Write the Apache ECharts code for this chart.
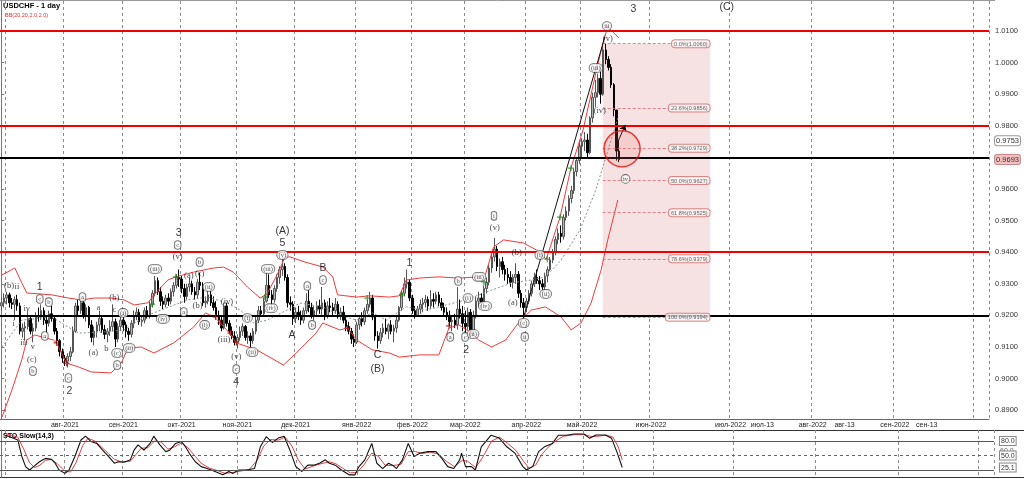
<!DOCTYPE html>
<html><head><meta charset="utf-8">
<script src="https://cdn.jsdelivr.net/npm/echarts@6/dist/echarts.min.js"></script>
<style>html,body{margin:0;padding:0;background:#fff;}#c{width:1024px;height:479px;}</style>
</head><body><div id="c"></div>
<script>
// ---------- DATA ----------
// daily bars, Jun 29 2021 .. May 20 2022, in pips: [open, close, low, high]
const ohlcPips = [
[9230,9240,9215,9255],[9240,9255,9225,9270],[9255,9265,9235,9275],[9265,9240,9225,9272],[9240,9235,9220,9255],[9235,9250,9185,9260],
[9250,9230,9215,9265],[9230,9150,9140,9240],[9150,9160,9130,9175],[9160,9165,9120,9180],[9165,9190,9155,9215],[9190,9150,9140,9200],
[9150,9160,9115,9175],[9160,9200,9150,9210],[9200,9195,9180,9225],[9195,9215,9185,9235],[9215,9185,9170,9225],[9185,9175,9145,9200],
[9175,9205,9165,9215],[9205,9190,9180,9230],[9190,9150,9140,9195],[9150,9120,9110,9160],[9120,9085,9070,9125],[9085,9065,9050,9095],
[9065,9055,9040,9075],[9055,9070,9035,9080],[9070,9085,9055,9100],[9085,9150,9080,9165],[9150,9230,9145,9240],[9230,9215,9200,9250],
[9215,9240,9205,9255],[9240,9200,9190,9255],[9200,9225,9180,9235],[9225,9170,9160,9230],[9170,9130,9115,9185],[9130,9150,9105,9165],
[9150,9170,9130,9180],[9170,9190,9150,9215],[9190,9155,9145,9200],[9155,9140,9125,9170],[9140,9150,9115,9160],[9150,9165,9135,9185],
[9165,9180,9150,9235],[9180,9125,9100,9190],[9125,9165,9115,9175],[9165,9185,9150,9200],[9185,9170,9150,9210],[9170,9150,9130,9180],
[9150,9140,9120,9160],[9140,9175,9130,9185],[9175,9200,9160,9215],[9200,9210,9185,9225],[9210,9180,9170,9220],[9180,9185,9165,9200],
[9185,9215,9175,9225],[9215,9200,9190,9230],[9200,9235,9190,9245],[9235,9270,9225,9280],[9270,9310,9260,9325],[9310,9275,9265,9320],
[9275,9245,9230,9290],[9245,9235,9220,9260],[9235,9255,9225,9265],[9255,9245,9230,9270],[9245,9275,9235,9285],[9275,9295,9260,9305],
[9295,9320,9285,9330],[9320,9315,9290,9345],[9315,9285,9270,9325],[9285,9260,9240,9300],[9260,9290,9250,9300],[9290,9300,9275,9320],
[9300,9275,9265,9310],[9275,9265,9250,9290],[9265,9305,9255,9315],[9305,9295,9280,9335],[9295,9240,9230,9305],[9240,9245,9225,9260],
[9245,9265,9235,9280],[9265,9240,9230,9285],[9240,9225,9215,9260],[9225,9200,9190,9245],[9200,9185,9170,9215],[9185,9160,9150,9200],
[9160,9230,9155,9240],[9230,9175,9165,9240],[9175,9150,9140,9185],[9150,9135,9125,9165],[9135,9115,9105,9150],[9115,9130,9095,9140],
[9130,9150,9120,9165],[9150,9165,9135,9175],[9165,9130,9120,9170],[9130,9135,9110,9150],[9135,9120,9100,9145],[9120,9150,9110,9160],
[9150,9185,9140,9195],[9185,9215,9175,9230],[9215,9205,9195,9230],[9205,9245,9200,9255],[9245,9295,9240,9335],[9295,9265,9255,9330],
[9265,9250,9225,9280],[9250,9285,9240,9295],[9285,9320,9275,9330],[9320,9345,9300,9355],[9345,9355,9325,9385],[9355,9320,9310,9365],
[9320,9240,9225,9330],[9240,9235,9215,9260],[9235,9190,9170,9245],[9190,9210,9175,9225],[9210,9200,9185,9230],[9200,9185,9170,9215],
[9185,9215,9175,9225],[9215,9245,9205,9270],[9245,9225,9210,9280],[9225,9200,9190,9240],[9200,9215,9185,9230],[9215,9230,9200,9245],
[9230,9220,9205,9250],[9220,9240,9200,9290],[9240,9200,9185,9250],[9200,9230,9190,9245],[9230,9225,9210,9255],[9225,9215,9195,9240],
[9215,9235,9205,9255],[9235,9200,9190,9245],[9200,9210,9185,9225],[9210,9185,9175,9230],[9185,9165,9150,9195],[9165,9150,9140,9180],
[9150,9125,9110,9160],[9125,9115,9100,9140],[9115,9170,9110,9180],[9170,9190,9155,9200],[9190,9180,9165,9210],[9180,9215,9170,9225],
[9215,9235,9205,9250],[9235,9255,9225,9275],[9255,9195,9185,9265],[9195,9135,9120,9200],[9135,9120,9095,9150],[9120,9145,9110,9160],
[9145,9160,9130,9175],[9160,9150,9140,9190],[9150,9170,9125,9175],[9170,9150,9140,9185],[9150,9160,9115,9170],[9160,9185,9145,9200],
[9185,9225,9180,9230],[9225,9270,9215,9280],[9270,9300,9260,9320],[9300,9305,9285,9345],[9305,9255,9245,9315],[9255,9215,9205,9265],
[9215,9200,9190,9230],[9200,9220,9195,9230],[9220,9235,9205,9250],[9235,9240,9210,9255],[9240,9250,9225,9265],[9250,9230,9215,9260],
[9230,9250,9220,9280],[9250,9245,9225,9270],[9245,9265,9235,9275],[9265,9240,9230,9275],[9240,9225,9215,9255],[9225,9210,9195,9240],
[9210,9200,9185,9225],[9200,9180,9165,9215],[9180,9185,9150,9200],[9185,9170,9160,9205],[9170,9220,9155,9290],[9220,9205,9190,9250],
[9205,9175,9150,9230],[9175,9165,9140,9215],[9165,9210,9155,9225],[9210,9150,9130,9220],[9150,9200,9140,9215],[9200,9245,9190,9260],
[9245,9255,9225,9275],[9255,9240,9225,9270],[9240,9285,9235,9295],[9285,9305,9270,9320],[9305,9350,9295,9360],[9350,9385,9335,9400],
[9385,9410,9370,9445],[9410,9355,9340,9420],[9355,9370,9320,9380],[9370,9345,9330,9385],[9345,9330,9310,9360],[9330,9320,9300,9350],
[9320,9305,9290,9340],[9305,9320,9285,9330],[9320,9330,9300,9365],[9330,9270,9255,9340],[9270,9240,9225,9280],[9240,9225,9195,9255],
[9225,9245,9210,9255],[9245,9270,9235,9280],[9270,9300,9260,9310],[9300,9320,9290,9335],[9320,9310,9300,9345],[9310,9300,9280,9325],
[9300,9290,9270,9315],[9290,9325,9280,9335],[9325,9345,9305,9355],[9345,9375,9340,9385],[9375,9400,9365,9410],[9400,9440,9390,9450],
[9440,9460,9425,9475],[9460,9450,9430,9485],[9450,9510,9440,9520],[9510,9530,9500,9545],[9530,9570,9515,9580],[9570,9595,9555,9610],
[9595,9655,9585,9665],[9655,9690,9640,9700],[9690,9735,9680,9750],[9735,9750,9700,9760],[9750,9755,9720,9780],[9755,9715,9700,9775],
[9715,9825,9710,9830],[9825,9890,9810,9905],[9890,9905,9860,9945],[9905,9950,9890,9965],[9950,9900,9870,9990],[9900,10040,9895,10060],
[10040,10010,9995,10060],[10010,9985,9975,10020],[9985,9930,9920,9995],[9930,9850,9830,9935],[9850,9720,9690,9850],[9720,9693,9685,9755]
];
// Bollinger bands: [bar position, value]
const bbUpper = [[0.25,.9328],[5.1,.9350],[7.7,.9303],[9.6,.9271],[19,.9265],[25.3,.9255],[30.2,.9249],[35.1,.9255],[41.4,.9255],[46.3,.9249],[50.1,.9233],[55.3,.9240],[57.6,.9265],[62.8,.9312],[65.8,.9322],[72.5,.9337],[80,.9350],[83.8,.9353],[87.5,.9337],[92.8,.9290],[97.6,.9255],[100.2,.9268],[104,.9328],[107,.9385],[108.9,.9385],[114.5,.9369],[121.2,.9353],[125,.9322],[126.8,.9265],[134,.9258],[138.8,.9262],[146.3,.9258],[150.1,.9262],[152.7,.9312],[157.6,.9318],[165,.9322],[172.5,.9318],[180,.9322],[182.6,.9330],[185.6,.9416],[189.4,.9439],[196.9,.9429],[201.8,.9407],[205.5,.9378],[210.7,.9511],[214.8,.9666],[219.4,.9787],[224.2,.9967],[226.9,1.0062],[228.7,1.0113],[232.9,1.0078]];
const bbMiddle = [[0.25,.9100],[7.7,.9185],[19,.9195],[25.3,.9163],[29.1,.9144],[37.7,.9147],[46.3,.9154],[53.8,.9195],[60.2,.9217],[70.3,.9249],[77.8,.9258],[85.3,.9239],[90.1,.9217],[95,.9176],[100.2,.9185],[107.7,.9217],[112.6,.9239],[121.2,.9227],[127.6,.9201],[134,.9185],[139.9,.9208],[145.2,.9185],[152.7,.9227],[160.2,.9217],[167.7,.9233],[175.2,.9249],[184.9,.9280],[192.5,.9303],[199.9,.9312],[205.2,.9322],[211.1,.9375],[218.2,.9470],[224.2,.9597],[228,.9701],[232.5,.9825]];
const bbLower = [[0.25,.8878],[4,.8964],[7.7,.9059],[9.6,.9122],[12.6,.9138],[19.7,.9122],[20.8,.9113],[24.6,.9049],[29.1,.9037],[33.9,.9021],[41.4,.9018],[45.2,.9049],[47.8,.9097],[52.7,.9100],[57.6,.9081],[65,.9113],[72.5,.9163],[77,.9208],[80.4,.9195],[82.6,.9176],[86.7,.9138],[88.6,.9113],[96.3,.9091],[106.4,.9043],[111.2,.9081],[118.7,.9144],[121.2,.9176],[127.6,.9154],[130.6,.9160],[134,.9122],[139.9,.9091],[146.3,.9081],[150.1,.9068],[157.6,.9075],[165,.9075],[168.8,.9160],[172.5,.9170],[176.3,.9150],[180,.9122],[184.9,.9100],[190.2,.9122],[195,.9176],[199.9,.9217],[205.2,.9227],[211.1,.9195],[214.9,.9154],[218.6,.9176],[222.4,.9239],[226.2,.9344],[228.7,.9439],[232.5,.9565]];
// Stochastic slow (14,3)
const stoK = [[1.7,92],[6.2,82],[7.7,48],[9.1,27],[10.6,20],[12.1,27],[14.3,37],[16.5,44],[18.8,42],[20.2,34],[21.7,20],[23.9,13],[25.4,20],[27.6,48],[29.9,82],[31.6,90],[33.6,79],[35.8,75],[38,61],[40.2,48],[42.4,34],[43.9,37],[46.1,36],[48.4,41],[49.8,61],[51.3,72],[53.5,61],[55.8,75],[57.2,90],[59.5,72],[61.7,58],[63.2,61],[65.4,75],[67.6,79],[69.1,68],[70.6,54],[72.8,37],[75,27],[77.2,23],[80.2,17],[83.1,10],[85.4,17],[86.9,13],[89.1,20],[92,20],[95,23],[97.2,68],[99.4,89],[101.7,77],[103.9,86],[106.1,90],[108.3,61],[110.5,27],[112.8,17],[115,30],[117.2,30],[119.4,34],[121.6,41],[123.1,34],[125.3,30],[127.6,20],[130.5,10],[132.7,10],[134.2,27],[136.4,41],[139,75],[140.9,34],[143.1,23],[145.3,34],[146.8,30],[148.3,23],[150.5,41],[152.7,75],[154.9,48],[157.2,55],[160.1,58],[163.1,58],[165.3,44],[167.5,27],[169.8,23],[172,41],[172.7,55],[174.2,27],[176.4,27],[177.9,20],[180.1,68],[183.8,92],[186.8,86],[189.7,68],[192.7,55],[195.7,27],[197.1,20],[199.4,27],[201.6,58],[203.8,68],[206.8,75],[209,92],[212,92],[214.9,94.5],[218.6,94.5],[220.8,85.5],[223.1,92.4],[226.7,92.4],[229,85.5],[231.2,54.5],[233,25.1]];
const stoD = [[1.7,95],[6.2,88],[8.5,62],[10.6,35],[12.5,25],[14.5,30],[16.5,40],[18.8,42],[21,33],[23.9,17],[26,16],[28,35],[30.5,70],[32.5,86],[35,80],[37.5,68],[40.2,54],[42.4,42],[45,37],[48.4,38],[50.5,52],[52.5,65],[55,66],[57.5,80],[60,78],[62.5,63],[65,68],[67.6,76],[70,66],[72.8,48],[75,34],[78,24],[81,19],[84,13],[87,15],[90,18],[93,21],[96,40],[98.5,70],[101,83],[104,82],[106.5,88],[109,70],[111.5,40],[114,22],[117,28],[120,33],[123,37],[125.5,33],[128,24],[131,14],[133.5,15],[136,30],[139,55],[141.5,48],[144,30],[147,29],[150,32],[152.7,58],[155.5,58],[158,54],[161,57],[164,53],[167,38],[170,27],[173,40],[175,38],[178,25],[180.5,45],[184,80],[187,88],[190,75],[193,61],[196,38],[198,24],[200.5,30],[202.5,50],[205,66],[208,80],[211,90],[215,93],[219,93],[221.5,89],[224,90],[227,92],[229.5,88],[231.5,68],[233,41]];
// horizontal levels
const redLevels = [1.0100, 0.9797, 0.9439];
const blackLevels = [0.9714, 0.9196];
// Fibonacci retracement
const fibPct = ['0.0','23.6','38.2','50.0','61.8','78.6','100.0'];
const fibVal = [1.0060, 0.9856, 0.9729, 0.9627, 0.9525, 0.9379, 0.9194];
const fibSpan = [226.8, 267.3];
// trend line and arrow, circle
const trendLine = [[196.9, 0.9192], [227.6, 1.0081]];
const arrowLine = [[232.8, 0.9755], [235.3, 0.98025]];
const circleMark = [234.1, 0.9727];
// signal crosses
const greenCross = [[56.8,.9236],[65.8,.9322],[99.4,.9258],[138,.9255],[151.1,.9265],[182,.9306],[205.9,.9378],[210.7,.9511],[214.8,.9666]];
const redCross = [[20.8,.9113],[24.6,.9049],[80.8,.9195],[82.6,.9176],[86.4,.9144],[88.6,.9116],[130.6,.9160],[168.8,.9167]];
// wave labels: [position, value, text, kind] kind: B big, s small, c circled
const waveLabels = [
[2.9,.9293,'(b)','s'],[5.9,.9290,'ii','s'],[4.7,.9173,'i','s'],[8.5,.9113,'iii','s'],[9.6,.9220,'iv','s'],[11.9,.9100,'v','s'],
[11.5,.9059,'(c)','s'],[11.9,.9024,'b','c'],[14.5,.9290,'1','B'],[14.5,.9252,'c','c'],[17.9,.9242,'b','c'],[16.4,.9135,'a','c'],
[25.3,.9002,'c','c'],[25.7,.8961,'2','B'],[30.6,.9258,'a','c'],[34.7,.9081,'(a)','s'],[36.6,.9223,'a','s'],[39.6,.9094,'b','s'],
[42.6,.9255,'(b)','s'],[42.6,.9217,'c','s'],[45.9,.9208,'(i)','c'],[43.7,.9081,'(c)','c'],[43.7,.9043,'b','c'],[48.2,.9097,'(ii)','c'],
[57.9,.9347,'(iii)','c'],[60.9,.9189,'(iv)','c'],[66.9,.9461,'3','B'],[66.5,.9423,'c','c'],[66.5,.9385,'(v)','s'],[70.7,.9325,'(a)','s'],
[74.8,.9331,'(c)','s'],[74.8,.9369,'b','c'],[68.8,.9211,'a','c'],[74.0,.9230,'(b)','s'],[78.2,.9290,'(ii)','c'],[76.7,.9170,'(i)','c'],
[85.1,.9242,'(iv)','s'],[84.0,.9122,'(iii)','s'],[88.6,.9068,'(v)','s'],[88.6,.9030,'c','c'],[88.6,.8989,'4','B'],[92.8,.9192,'(i)','c'],
[94.6,.9084,'(ii)','c'],[100.6,.9347,'(iii)','c'],[101.7,.9223,'(iv)','c'],[106.0,.9467,'(A)','B'],[106.0,.9429,'5','B'],[106.0,.9391,'(v)','c'],
[109.6,.9138,'A','B'],[115.4,.9293,'a','c'],[117.2,.9170,'b','c'],[121.3,.9350,'B','B'],[121.3,.9312,'c','c'],[141.9,.9075,'C','B'],
[141.9,.9030,'(B)','B'],[153.9,.9366,'1','B'],[169.3,.9132,'a','c'],[172.3,.9309,'b','c'],[174.9,.9132,'c','c'],[175.3,.9091,'2','B'],
[177.9,.9141,'(ii)','c'],[176.0,.9255,'(i)','c'],[180.2,.9322,'(iii)','c'],[182.4,.9230,'(iv)','c'],[185.8,.9515,'i','c'],[186.1,.9477,'(v)','s'],
[194.4,.9397,'(b)','s'],[192.9,.9239,'(a)','s'],[197.0,.9176,'(c)','c'],[197.4,.9132,'ii','c'],[203.1,.9391,'(i)','c'],[205.3,.9268,'(ii)','c'],
[238.4,1.0170,'3','B'],[273.6,1.0176,'(C)','B'],[228.4,1.0116,'iii','c'],[228.7,1.0075,'(v)','s'],[224.2,.9983,'(iii)','c'],[225.7,.9847,'(iv)','s'],
[235.4,.9632,'iv','c']
];
// axis ticks
const priceTicks = [0.89,0.90,0.91,0.92,0.93,0.94,0.95,0.96,0.97,0.98,0.99,1.00,1.01];
const priceTickLabels = [0.89,0.90,0.91,0.92,0.93,0.94,0.95,0.96,0.98,0.99,1.00,1.01];
const priceMarks = {'0.9753':'cur', '0.9693':'last'};
const stoTicks = [60, 80, 50, 25.1];
const dateLabels = {
 '2021-08-02':'авг-2021','2021-09-01':'сен-2021','2021-10-01':'окт-2021','2021-11-01':'ноя-2021','2021-12-01':'дек-2021',
 '2022-01-03':'янв-2022','2022-02-01':'фев-2022','2022-03-01':'мар-2022','2022-04-01':'апр-2022','2022-05-02':'май-2022',
 '2022-06-01':'июн-2022','2022-07-01':'июл-2022','2022-07-13':'июл-13','2022-08-01':'авг-2022','2022-08-13':'авг-13',
 '2022-09-01':'сен-2022','2022-09-13':'сен-13'
};
const gridDates = ['2021-07-01','2021-08-02','2021-09-01','2021-10-01','2021-11-01','2021-12-01','2022-01-03','2022-02-01',
 '2022-03-01','2022-04-01','2022-05-02','2022-06-01','2022-07-01','2022-08-01','2022-09-01','2022-10-01'];

// ---------- CATEGORIES (trading days, then calendar days in the future area) ----------
function buildCategories(){
  const out=[]; const d=new Date(Date.UTC(2021,5,29));
  const lastBar=Date.UTC(2022,4,20), end=Date.UTC(2022,9,6);
  while(d.getTime()<=end){
    const dow=d.getUTCDay();
    if(d.getTime()>lastBar || (dow!==0 && dow!==6)) out.push(d.toISOString().slice(0,10));
    d.setUTCDate(d.getUTCDate()+1);
  }
  return out;
}
const cats = buildCategories();
const N = cats.length;
const candles = ohlcPips.map(r => r.map(v => v/10000));
const gridSet = new Set(gridDates);

const FONT = 'Liberation Sans, Arial, sans-serif';
const SERIF = 'Liberation Serif, Times New Roman, serif';
const gridLine = {show:true, interval:(i,v)=>gridSet.has(v), lineStyle:{color:'#8c8c8c', type:[3,3], width:1}};
const crossPath = 'path://M4,0H6V4H10V6H6V10H4V6H0V4H4Z';

const chart = echarts.init(document.getElementById('c'), null, {renderer:'canvas'});
const option = {
  animation:false,
  backgroundColor:'#fff',
  grid:[{left:-2, top:1, width:996, height:418}, {left:-2, top:430, width:996, height:47}],
  xAxis:[
    {type:'category', gridIndex:0, data:cats, boundaryGap:true,
     axisLine:{show:true, lineStyle:{color:'#666'}}, axisTick:{show:false},
     axisLabel:{interval:(i,v)=>dateLabels[v]!==undefined, formatter:v=>dateLabels[v]||'', fontSize:7, color:'#222', fontFamily:FONT, margin:3},
     splitLine:gridLine},
    {type:'value', gridIndex:0, min:-0.5, max:N-0.5, show:false},
    {type:'category', gridIndex:1, data:cats, boundaryGap:true, axisLine:{show:false}, axisTick:{show:false}, axisLabel:{show:false}, splitLine:gridLine},
    {type:'value', gridIndex:1, min:-0.5, max:N-0.5, show:false}
  ],
  yAxis:[
    {type:'value', gridIndex:0, position:'right', min:0.88722, max:1.01949,
     axisLine:{show:true, lineStyle:{color:'#777'}},
     axisTick:{show:true, customValues:priceTicks, length:3, lineStyle:{color:'#777'}},
     splitLine:{show:false},
     axisLabel:{customValues:priceTickLabels.concat([0.9753,0.9693]), margin:6, fontSize:7.5, color:'#333', fontFamily:FONT,
       formatter:v=>{const s=v.toFixed(4); return priceMarks[s] ? '{'+priceMarks[s]+'|'+s+'}' : s;},
       rich:{cur:{fontSize:7.5, color:'#333', backgroundColor:'#fff', borderColor:'#999', borderWidth:1, borderRadius:2, padding:[1,1,0,1]},
             last:{fontSize:7.5, color:'#333', backgroundColor:'#f2c0c0', borderColor:'#c88', borderWidth:1, borderRadius:2, padding:[1,1,0,1]}}}},
    {type:'value', gridIndex:1, position:'right', min:5.52, max:102.76,
     axisLine:{show:true, lineStyle:{color:'#777'}}, axisTick:{show:false}, splitLine:{show:false},
     axisLabel:{customValues:stoTicks, margin:6, fontSize:7, color:'#333', fontFamily:FONT,
       formatter:v=> v===60 ? '{p|60.0}' : '{b|'+v.toFixed(1)+'}',
       rich:{b:{fontSize:7, color:'#333', backgroundColor:'#fff', borderColor:'#888', borderWidth:1, padding:[1,1,0,1]},
             p:{fontSize:7, color:'#666'}}}}
  ],
  series:[
    {name:'fibArea', type:'line', xAxisIndex:1, yAxisIndex:0, data:[], z:0, silent:true,
     markArea:{silent:true, itemStyle:{color:'#f6e2e2'}, data:[[{coord:[fibSpan[0], fibVal[0]]},{coord:[fibSpan[1], fibVal[fibVal.length-1]]}]]},
     markLine:{silent:true, symbol:'none', label:{show:false}, lineStyle:{color:'#d46a6a', type:[3,2], width:0.8},
       data: fibVal.map(v=>[{coord:[fibSpan[0],v]},{coord:[fibSpan[1],v]}])}},
    {name:'levels', type:'line', xAxisIndex:1, yAxisIndex:0, data:[], z:2, silent:true,
     markLine:{silent:true, symbol:'none', label:{show:false},
       data: redLevels.map(v=>({yAxis:v, lineStyle:{color:'#f00000', width:2, type:'solid'}}))
        .concat(blackLevels.map(v=>({yAxis:v, lineStyle:{color:'#000', width:2, type:'solid'}})))}},
    {name:'bbUpper', type:'line', xAxisIndex:1, yAxisIndex:0, data:bbUpper, showSymbol:false, z:4, silent:true, lineStyle:{color:'#f03a3a', width:1}},
    {name:'bbLower', type:'line', xAxisIndex:1, yAxisIndex:0, data:bbLower, showSymbol:false, z:4, silent:true, lineStyle:{color:'#f03a3a', width:1}},
    {name:'bbMiddle', type:'line', xAxisIndex:1, yAxisIndex:0, data:bbMiddle, showSymbol:false, z:4, silent:true, lineStyle:{color:'#7f9488', width:1, type:[2,2]}},
    {name:'price', type:'candlestick', xAxisIndex:0, yAxisIndex:0, data:candles, barWidth:2, z:3,
     itemStyle:{color:'#b5b5b5', color0:'#000', borderColor:'#555', borderColor0:'#000', borderWidth:1}},
    {name:'trend', type:'line', xAxisIndex:1, yAxisIndex:0, data:[], z:5, silent:true,
     markLine:{silent:true, label:{show:false}, symbolSize:6,
       data:[
         [{coord:trendLine[0], symbol:'none', lineStyle:{color:'#111', width:1, type:'solid'}},{coord:trendLine[1], symbol:'none'}],
         [{coord:arrowLine[0], symbol:'none', lineStyle:{color:'#000', width:1, type:'solid'}},{coord:arrowLine[1], symbol:'arrow'}]
       ]}},
    {name:'circle', type:'scatter', xAxisIndex:1, yAxisIndex:0, data:[circleMark], symbol:'circle', symbolSize:36, z:5, silent:true,
     itemStyle:{color:'rgba(240,110,110,0.22)', borderColor:'#e81010', borderWidth:1.5}},
    {name:'fibLabels', type:'scatter', xAxisIndex:1, yAxisIndex:0, symbolSize:1, z:6, silent:true, itemStyle:{color:'rgba(0,0,0,0)'},
     data: fibVal.map((v,k)=>({value:[fibSpan[1], v], label:{formatter:'{f|'+fibPct[k]+'%('+v.toFixed(4)+')}'}})),
     label:{show:true, position:'left', distance:0, rich:{f:{fontSize:5.6, fontFamily:FONT, color:'#333', backgroundColor:'#fff', borderColor:'#d07070', borderWidth:1, borderRadius:3, padding:[1,2,0,2]}}}},
    {name:'greenX', type:'scatter', xAxisIndex:1, yAxisIndex:0, data:greenCross, symbol:crossPath, symbolSize:6, z:7, silent:true, itemStyle:{color:'#138a13'}},
    {name:'redX', type:'scatter', xAxisIndex:1, yAxisIndex:0, data:redCross, symbol:crossPath, symbolSize:6, z:7, silent:true, itemStyle:{color:'#9a1515'}},
    {name:'waves', type:'scatter', xAxisIndex:1, yAxisIndex:0, symbolSize:1, z:8, silent:true, itemStyle:{color:'rgba(0,0,0,0)'},
     data: waveLabels.map(([u,v,t,k])=>({value:[u,v], label:{formatter:'{'+k+'|'+t+'}'}})),
     label:{show:true, position:'inside', rich:{
       B:{fontSize:10.5, fontFamily:FONT, color:'#000'},
       s:{fontSize:8.5, fontFamily:SERIF, color:'#111'},
       c:{fontSize:6.5, fontFamily:SERIF, color:'#111', backgroundColor:'#fff', borderColor:'#444', borderWidth:0.8, borderRadius:6, padding:[1,1.5,0,1.5]}}}},
    {name:'%K', type:'line', xAxisIndex:3, yAxisIndex:1, data:stoK, showSymbol:false, z:4, silent:true, lineStyle:{color:'#111', width:1.1},
     markLine:{silent:true, symbol:'none', label:{show:false},
       data:[{yAxis:80, lineStyle:{color:'#555', width:1, type:'solid'}},{yAxis:50, lineStyle:{color:'#666', width:1, type:[3,3]}},{yAxis:20, lineStyle:{color:'#555', width:1, type:'solid'}}]}},
    {name:'%D', type:'line', xAxisIndex:3, yAxisIndex:1, data:stoD, showSymbol:false, z:3, silent:true, lineStyle:{color:'#e04040', width:1}}
  ],
  graphic:[
    {type:'line', shape:{x1:0,y1:0.5,x2:995,y2:0.5}, style:{stroke:'#999', lineWidth:1}},
    {type:'line', shape:{x1:0,y1:430.5,x2:1024,y2:430.5}, style:{stroke:'#333', lineWidth:1}},
    {type:'line', shape:{x1:0,y1:477.5,x2:1024,y2:477.5}, style:{stroke:'#333', lineWidth:1}},
    {type:'text', left:3, top:2, style:{text:'USDCHF - 1 day', font:'bold 7.5px '+FONT, fill:'#000'}},
    {type:'text', left:5, top:12, style:{text:'BB(20,20,2.0,2.0)', font:'5.5px '+FONT, fill:'#e03030'}},
    {type:'text', left:3, top:433, style:{text:'STO Slow(14,3)', font:'bold 7px '+FONT, fill:'#000'}}
  ]
};
chart.setOption(option);
</script></body></html>
